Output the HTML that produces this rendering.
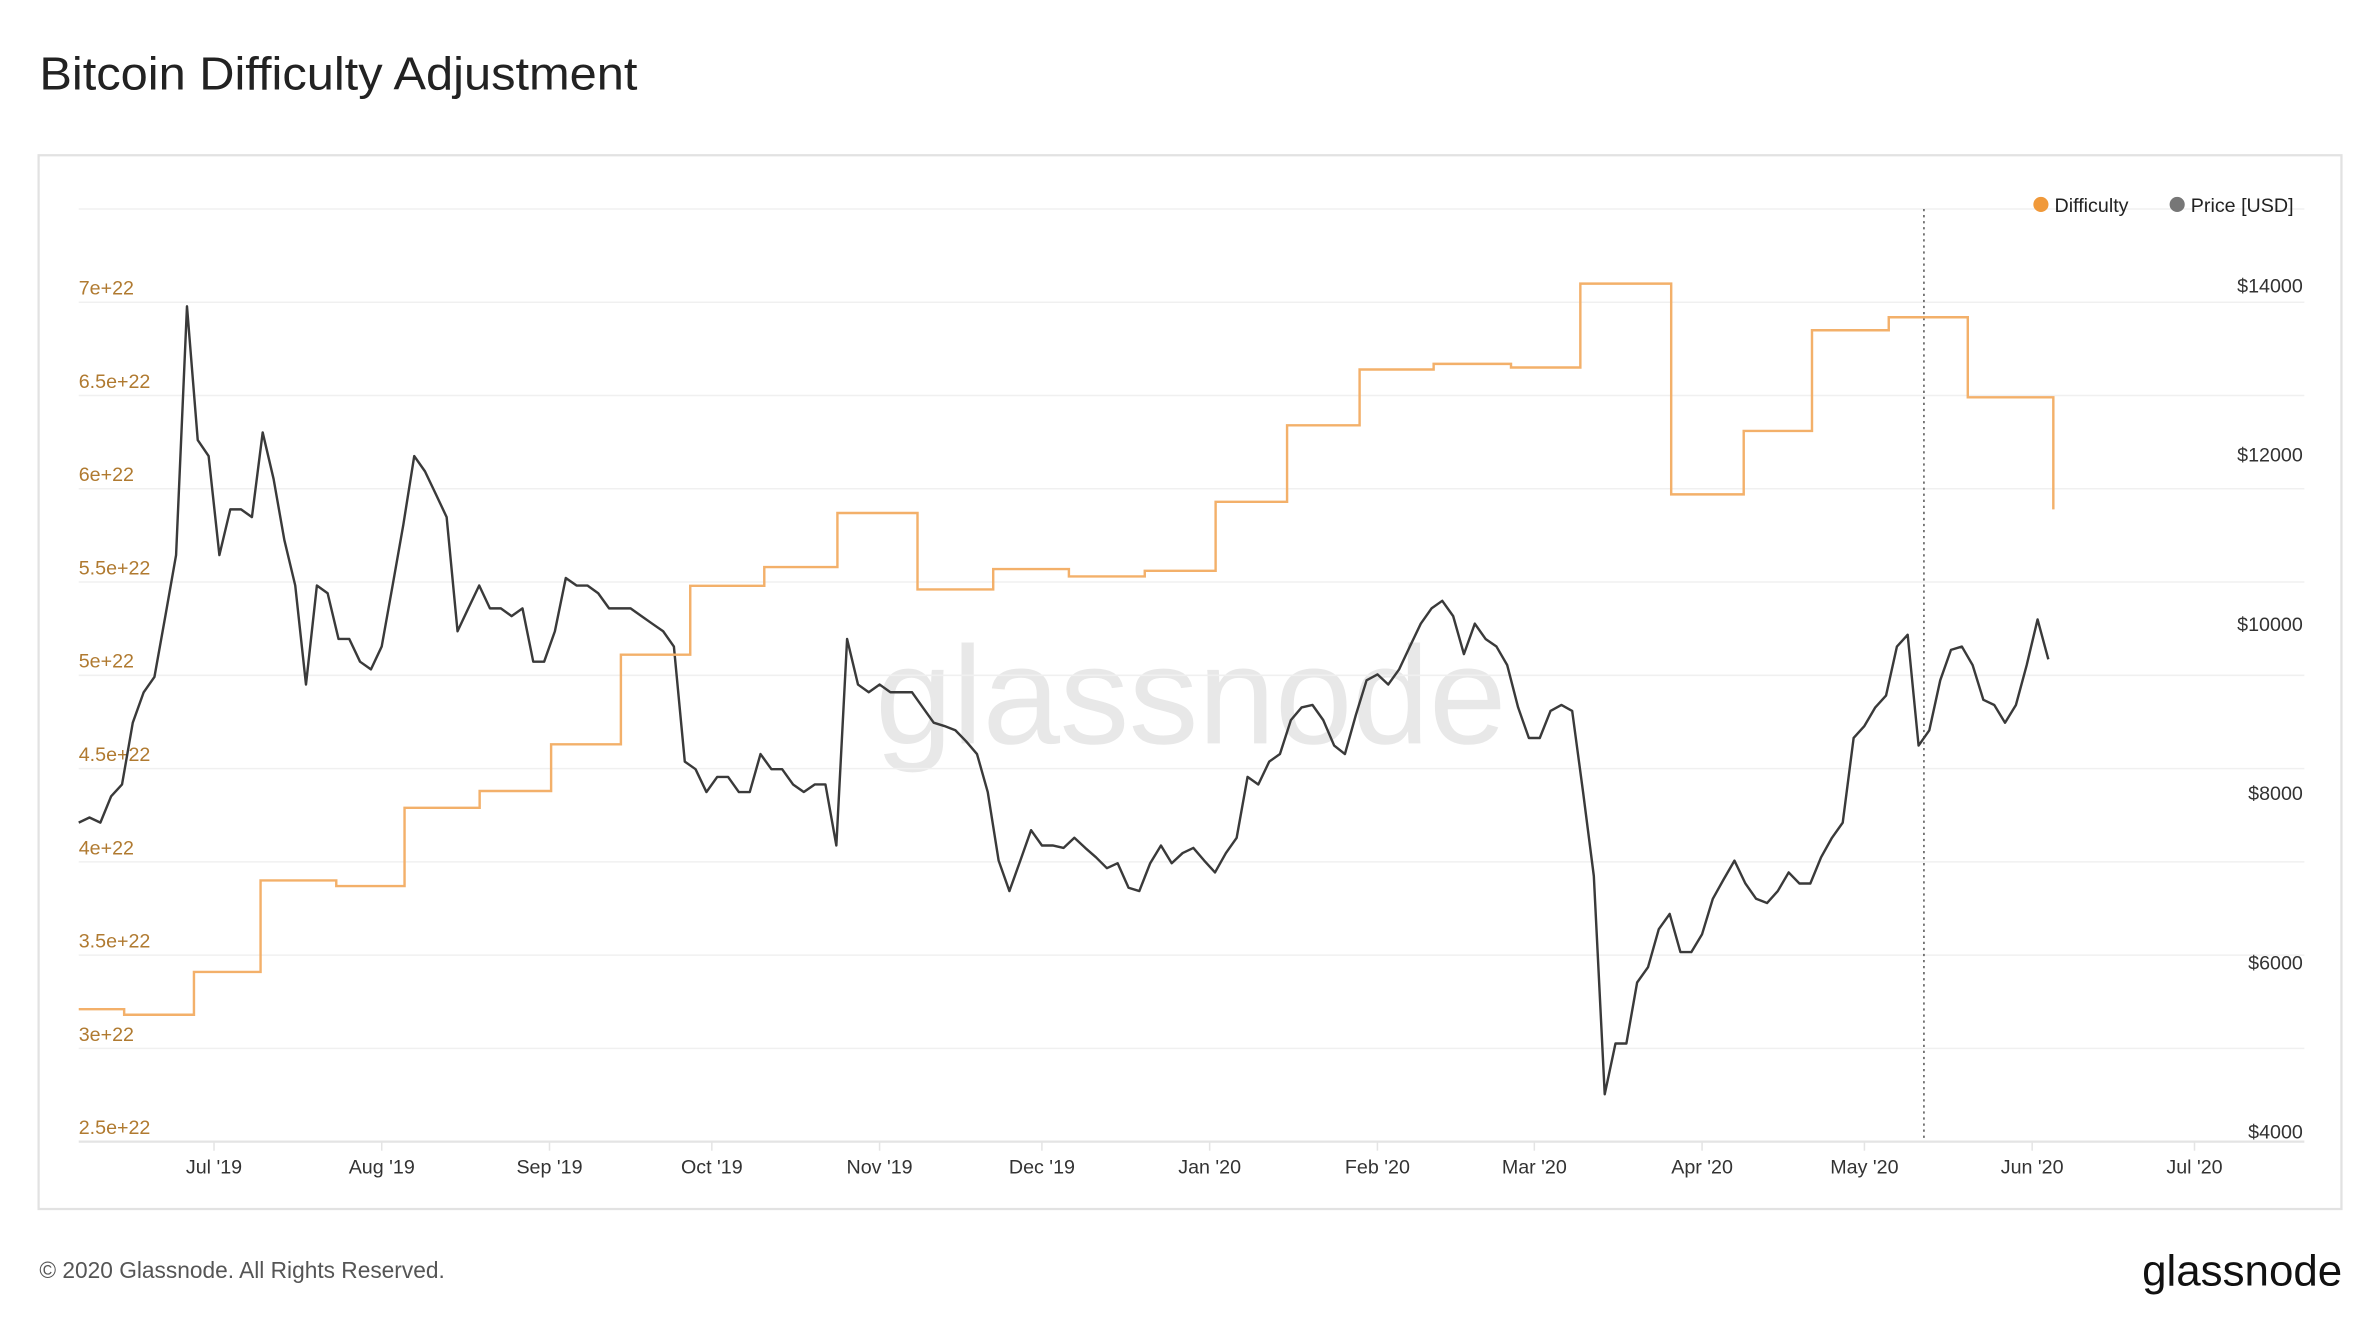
<!DOCTYPE html>
<html><head><meta charset="utf-8"><style>
html,body{margin:0;padding:0;background:#fff;}
svg{display:block;font-family:"Liberation Sans",sans-serif;}
</style></head><body>
<svg id="chart" width="2374" height="1332" viewBox="0 0 1568 879.7" xmlns="http://www.w3.org/2000/svg">
<rect width="1568" height="879.7" fill="#fff"/>
<text x="26" y="59" font-size="30.5" fill="#222" textLength="395" lengthAdjust="spacingAndGlyphs">Bitcoin Difficulty Adjustment</text>
<rect x="25.5" y="102.5" width="1521" height="696" fill="none" stroke="#e2e2e2" stroke-width="1.5"/>
<text x="578" y="491" font-size="92" fill="#e8e8e8" textLength="417">glassnode</text>
<g id="grid"></g>
<g id="xaxis"></g>
<g id="lines"></g>
<g>
<circle cx="1348" cy="135" r="5" fill="#f0993a"/>
<text x="1357" y="140" font-size="13" fill="#222">Difficulty</text>
<circle cx="1438" cy="135" r="5" fill="#777"/>
<text x="1447" y="140" font-size="13" fill="#222">Price [USD]</text>
</g>
<text x="26" y="844" font-size="15" fill="#555">© 2020 Glassnode. All Rights Reserved.</text>
<text x="1547" y="849" font-size="29" fill="#111" text-anchor="end">glassnode</text>
</svg>
<script>
// Difficulty steps: start day (from 2019-06-06) and value (e22)
const diffDays = [0, 8.4, 21.3, 33.6, 47.6, 60.2, 74.1, 87.3, 100.2, 113.0, 126.7, 140.2, 155.0, 169.0, 183.0, 197.0, 210.1, 223.3, 236.7, 250.4, 264.7, 277.5, 294.3, 307.7, 320.3, 334.5, 349.1, 364.9];
const diffValues = [3.21, 3.18, 3.41, 3.90, 3.87, 4.29, 4.38, 4.63, 5.11, 5.48, 5.58, 5.87, 5.46, 5.57, 5.53, 5.56, 5.93, 6.34, 6.64, 6.67, 6.65, 7.10, 5.97, 6.31, 6.85, 6.92, 6.49, 5.89];
// Price, one reading every 2 days starting 2019-06-06
const priceStepDays = 2;
const priceValues = [7770,7830,7770,8080,8220,8950,9310,9490,10210,10930,13870,12290,12100,10930,11470,11470,11380,12380,11830,11110,10570,9400,10570,10480,9940,9940,9670,9580,9850,10570,11290,12100,11920,11650,11380,10030,10300,10570,10300,10300,10210,10300,9670,9670,10030,10660,10570,10570,10480,10300,10300,10300,10210,10120,10030,9850,8490,8400,8130,8310,8310,8130,8130,8580,8400,8400,8220,8130,8220,8220,7500,9940,9400,9310,9400,9310,9310,9310,9130,8950,8910,8860,8730,8580,8130,7320,6960,7320,7680,7500,7500,7470,7590,7470,7360,7230,7290,7000,6960,7290,7500,7290,7410,7470,7320,7180,7410,7590,8310,8220,8490,8580,8980,9130,9160,8980,8680,8580,9040,9450,9520,9400,9580,9850,10120,10300,10390,10210,9760,10120,9940,9850,9630,9130,8770,8770,9090,9160,9090,8130,7140,4560,5160,5160,5880,6060,6510,6690,6240,6240,6450,6870,7100,7320,7050,6870,6820,6960,7180,7050,7050,7360,7590,7770,8770,8910,9130,9270,9850,9990,8680,8860,9450,9810,9850,9630,9220,9160,8950,9160,9630,10170,9700];
const diffTicks = [2.5,3,3.5,4,4.5,5,5.5,6,6.5,7,7.5];
const diffTickLabels = ["2.5e+22","3e+22","3.5e+22","4e+22","4.5e+22","5e+22","5.5e+22","6e+22","6.5e+22","7e+22",""];
const priceTicks = [4000,6000,8000,10000,12000,14000];
const monthLabels = ["Jul '19","Aug '19","Sep '19","Oct '19","Nov '19","Dec '19","Jan '20","Feb '20","Mar '20","Apr '20","May '20","Jun '20","Jul '20"];
const monthDays = [25,56,87,117,148,178,209,240,269,300,330,361,391];
const halvingDay = 341;

const NS = "http://www.w3.org/2000/svg";
const X0 = 52, X1 = 1522, PX_PER_DAY = 3.574, YB = 754;
const xS = d => X0 + d * PX_PER_DAY;
const yD = v => YB - (v - 2.5) * 123.2;
const yP = p => YB - (p - 4000) * 0.0559;
function mk(tag, attrs, parent) { const e = document.createElementNS(NS, tag); for (const k in attrs) e.setAttribute(k, attrs[k]); parent.appendChild(e); return e; }

const grid = document.getElementById('grid');
diffTicks.forEach((t, i) => {
  const y = yD(t);
  const l = mk('line', {x1: X0, x2: X1, y1: y, y2: y, stroke: i === 0 ? '#e4e4e4' : '#f0f0f0', 'stroke-width': i === 0 ? 1.5 : 1}, grid);
  
  
  if (diffTickLabels[i]) {
    const tx = mk('text', {x: X0, y: y - 5, 'font-size': 13, fill: '#b07a30'}, grid);
    tx.textContent = diffTickLabels[i];
    
    
  }
});
priceTicks.forEach(p => {
  const tx = mk('text', {x: 1521, y: yP(p) - 2, 'font-size': 13, fill: '#333', 'text-anchor': 'end'}, grid);
  tx.textContent = '$' + p;
  
  
});
const xaxis = document.getElementById('xaxis');
monthDays.forEach((d, i) => {
  const x = xS(d);
  const tk = mk('line', {x1: x, x2: x, y1: YB, y2: YB + 6, stroke: '#e4e4e4'}, xaxis);
  
  
  const tx = mk('text', {x: x, y: 775, 'font-size': 13, fill: '#333', 'text-anchor': 'middle'}, xaxis);
  tx.textContent = monthLabels[i];
  
  
});
const lines = document.getElementById('lines');
const hv = mk('line', {x1: xS(halvingDay), x2: xS(halvingDay), y1: 138, y2: YB, stroke: '#555', 'stroke-width': 1, 'stroke-dasharray': '1.5 2.5'}, lines);



let pd = '';
priceValues.forEach((p, i) => { pd += (i ? 'L' : 'M') + xS(i * priceStepDays).toFixed(1) + ' ' + yP(p).toFixed(1); });
const pl = mk('path', {d: pd, fill: 'none', stroke: '#3a3a3a', 'stroke-width': 1.6, 'stroke-linejoin': 'round'}, lines);



let dd = '';
for (let i = 0; i < diffValues.length - 1; i++) {
  const y = yD(diffValues[i]);
  dd += (i ? 'L' : 'M') + xS(diffDays[i]).toFixed(1) + ' ' + y.toFixed(1) + 'L' + xS(diffDays[i + 1]).toFixed(1) + ' ' + y.toFixed(1);
}
const last = diffValues.length - 1;
dd += 'L' + xS(diffDays[last]).toFixed(1) + ' ' + yD(diffValues[last]).toFixed(1);
const dl = mk('path', {d: dd, fill: 'none', stroke: '#f3b06a', 'stroke-width': 1.6}, lines);


</script>
</body></html>
